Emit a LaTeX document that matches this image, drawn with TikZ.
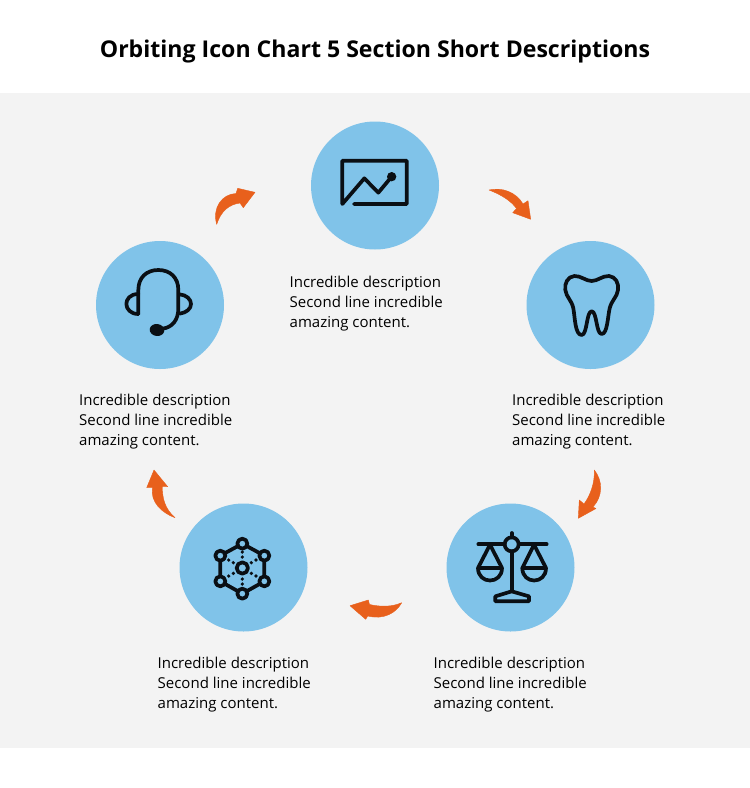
\documentclass[tikz,border=0pt]{standalone}
\usepackage{fontspec}
\setmainfont{Open Sans}
\definecolor{bgpanel}{HTML}{F3F3F3}
\definecolor{discblue}{HTML}{80C3E9}
\definecolor{arroworange}{HTML}{E8601C}
\definecolor{iconink}{HTML}{0A0F14}
\begin{document}
\begin{tikzpicture}[x=1pt,y=-1pt,
  disc/.style={circle,fill=discblue,draw=none,minimum size=128pt,inner sep=0pt},
  desc/.style={anchor=north west,align=left,inner sep=0pt,font=\fontsize{15}{20}\selectfont,text=black},
  turn/.style={fill=arroworange,draw=arroworange,line width=0.4pt,line join=round},
  icon/.style={draw=iconink,line width=3.7pt,line join=round,line cap=round},
  zoomed/.style={x=0.33333pt,y=-0.33333pt}]
\useasboundingbox (0,0) rectangle (750,788);
\fill[white] (0,0) rectangle (750,788);
\fill[bgpanel] (0,93) rectangle (750,748);
\node[font=\fontsize{23.1}{28}\bfseries\selectfont,text=black] (title) at (375,51) {Orbiting Icon Chart 5 Section Short Descriptions};

\node[disc] (d1) at (375,185.5) {};
\node[disc] (d2) at (590.5,305) {};
\node[disc] (d3) at (510.5,567.5) {};
\node[disc] (d4) at (243.5,567.5) {};
\node[disc] (d5) at (160,305) {};

\node[desc] (t1) at (289.5,276) {Incredible description\\Second line incredible\\amazing content.};
\node[desc] (t2) at (512,394) {Incredible description\\Second line incredible\\amazing content.};
\node[desc] (t3) at (433.5,656.5) {Incredible description\\Second line incredible\\amazing content.};
\node[desc] (t4) at (157.5,656.5) {Incredible description\\Second line incredible\\amazing content.};
\node[desc] (t5) at (79,394) {Incredible description\\Second line incredible\\amazing content.};

% arrows
\filldraw[turn] (489,190) .. controls (502,187) and (516,192) .. (523,204) -- (528,200.7) -- (530.7,219.3) -- (512.7,212.7) -- (516.5,208.5) .. controls (511,201) and (502,195) .. (489,190) -- cycle;
\filldraw[turn] (594.3,470) .. controls (603,481) and (603,496) .. (593,507) -- (596,508.5) -- (578.3,518.3) -- (579.3,500) -- (584,504) .. controls (590,496) and (595,483) .. (594.3,470) -- cycle;
\filldraw[turn] (401.7,602.7) .. controls (396,613) and (384,620) .. (367.7,616) -- (365.7,619.3) -- (350,605.7) -- (368.3,600) -- (369.5,604.5) .. controls (381,607) and (392,607) .. (401.7,602.7) -- cycle;
\filldraw[turn] (175,517.7) .. controls (162,513) and (150,502) .. (152.5,487.7) -- (146.7,487.7) -- (154,470) -- (167.7,486.7) -- (162.5,486.7) .. controls (162,498) and (165,509) .. (175,517.7) -- cycle;
\filldraw[turn] (216.7,224.3) .. controls (212,208) and (222,194) .. (236,193.5) -- (237.7,188.3) -- (255,192.3) -- (243.3,207.7) -- (240,203) .. controls (229,204.5) and (221,211) .. (216.7,224.3) -- cycle;

% chart icon
\begin{scope}[shift={(310,120)},zoomed]
\draw[icon] (132,252) -- (290,252) -- (290,122) -- (97,122) -- (97,252) -- (163,175) -- (205,218) -- (245,170);
\fill[iconink] (245,170) circle (14);
\end{scope}

% tooth icon
\begin{scope}[shift={(525,240)},zoomed]
\draw[icon] (200,123) .. controls (218,123) and (232,107) .. (252,108)
 .. controls (272,110) and (282,130) .. (279,150)
 .. controls (276,172) and (260,180) .. (254,205)
 .. controls (248,232) and (247,282) .. (230,282)
 .. controls (213,282) and (216,214) .. (200,214)
 .. controls (184,214) and (187,285) .. (170,285)
 .. controls (150,285) and (150,232) .. (145,205)
 .. controls (140,180) and (124,172) .. (121,150)
 .. controls (118,130) and (128,110) .. (148,108)
 .. controls (168,107) and (182,123) .. (200,123) -- cycle;
\end{scope}

% scale icon
\begin{scope}[shift={(445,503)},zoomed]
\draw[icon] (100,124) -- (179,124) (221,124) -- (305,124);
\draw[icon] (200,124) circle (21);
\draw[icon] (200,90) -- (200,103) (200,145) -- (200,265);
\draw[icon] (151,280) -- (200,265) -- (252,280) -- (252,295) -- (151,295) -- cycle;
\draw[icon] (99,195) -- (135,125) -- (171,195) -- cycle;
\draw[icon] (99,195) .. controls (99,245) and (171,245) .. (171,195);
\draw[icon] (232,195) -- (267,125) -- (303,195) -- cycle;
\draw[icon] (232,195) .. controls (232,245) and (303,245) .. (303,195);
\end{scope}

% network icon
\begin{scope}[shift={(178,503)},zoomed]
\draw[icon] (193,122) -- (259,158) -- (259,235) -- (193,272) -- (127,235) -- (127,158) -- cycle;
\foreach \px/\py in {193/122,259/158,259/235,193/272,127/235,127/158}{
  \filldraw[icon,fill=discblue] (\px,\py) circle (15);
}
\draw[icon,fill=discblue] (193,195) circle (17);
\foreach \px/\py in {193/147,193/162,193/228,193/243,
  152/171,166/179,234/171,220/179,152/219,166/211,234/219,220/211}{
  \fill[iconink] (\px,\py) circle (5.5);
}
\end{scope}

% headset icon
\begin{scope}[shift={(95,240)},zoomed]
\draw[icon] (130,222) -- (130,150) .. controls (130,112) and (155,90) .. (190,90)
 .. controls (225,90) and (250,112) .. (250,150) -- (250,205)
 .. controls (250,240) and (232,262) .. (203,266);
\draw[icon] (130,162) .. controls (105,162) and (94,178) .. (94,192) .. controls (94,208) and (108,222) .. (130,222);
\draw[icon] (254,163) .. controls (275,165) and (288,178) .. (288,192) .. controls (288,206) and (275,218) .. (254,221);
\fill[iconink,rotate around={-8:(186,270)}] (186,270) ellipse (22 and 18);
\end{scope}
\end{tikzpicture}
\end{document}
